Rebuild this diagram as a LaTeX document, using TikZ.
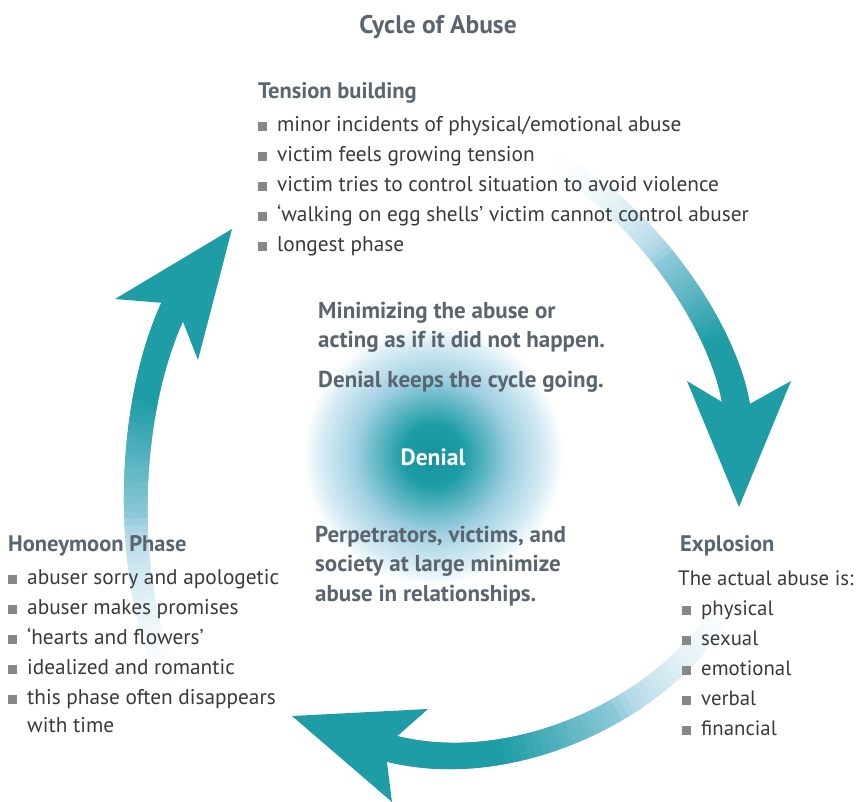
\documentclass[tikz,border=0pt]{standalone}
\usepackage{fontspec}
\setmainfont{PT Sans}

\definecolor{cycleteal}{RGB}{30,157,166}
\definecolor{cyclelight}{RGB}{160,208,226}
\definecolor{glowcore}{RGB}{22,146,156}
\definecolor{glowpale}{RGB}{215,236,244}
\definecolor{headgray}{RGB}{90,101,112}
\definecolor{textgray}{RGB}{58,58,60}
\definecolor{bulletgray}{RGB}{135,135,138}

\newcommand{\sqbullet}{\textcolor{bulletgray}{\rule[0.5pt]{9pt}{9pt}}\hspace{10pt}}

\pgfdeclareradialshading{denialglow}{\pgfpoint{0bp}{0bp}}{%
  color(0bp)=(glowcore); color(6bp)=(cycleteal); color(15bp)=(cyclelight);
  color(21.5bp)=(glowpale); color(25bp)=(white); color(50bp)=(white)}

\tikzset{
  heading/.style={anchor=base west, inner sep=0pt, text=headgray,
    font=\fontsize{22.5}{30}\selectfont\bfseries},
  itemlist/.style={anchor=base west, inner sep=0pt, align=left, text=textgray,
    font=\fontsize{21.3}{30}\selectfont},
  denialtext/.style={anchor=base west, inner sep=0pt, align=left, text=headgray,
    font=\fontsize{23}{29.5}\selectfont\bfseries}
}

\begin{document}
\begin{tikzpicture}[x=1pt, y=-1pt]
    \useasboundingbox (0,0) rectangle (857,802);

    % Denial glow in the middle
    \shade[shading=denialglow] (433,455) circle (130);

    % Arrow: tension building -> explosion
    \path (540,155) .. controls (640,200) and (733,335) .. (738,420)
        \foreach \i in {0,...,60} {coordinate[pos=\i/60] (ta\i)};
    \foreach \i in {0,...,58} {
        \pgfmathtruncatemacro\j{\i+2}
        \pgfmathtruncatemacro\pa{min(100,100*(\i/27)^2)}
        \pgfmathtruncatemacro\pb{max(0,min(100,(\i-24)*5.4))}
        \pgfmathsetmacro\lw{20+0.13*\i}
        \draw[line width=\lw pt, cycleteal!\pb!cyclelight!\pa!white] (ta\i) -- (ta\j);
    }
    \fill[cycleteal] (739,507) -- (791,381) -- (737,411) -- (687,381) -- cycle;

    % Arrow: explosion -> honeymoon phase
    \path (735,580) .. controls (700,690) and (520,790) .. (378,745)
        \foreach \i in {0,...,60} {coordinate[pos=\i/60] (ea\i)};
    \foreach \i in {0,...,58} {
        \pgfmathtruncatemacro\j{\i+2}
        \pgfmathtruncatemacro\pa{min(100,100*(\i/27)^2)}
        \pgfmathtruncatemacro\pb{max(0,min(100,(\i-24)*5.4))}
        \pgfmathsetmacro\lw{20+0.13*\i}
        \draw[line width=\lw pt, cycleteal!\pb!cyclelight!\pa!white] (ea\i) -- (ea\j);
    }
    \fill[cycleteal] (292,716) -- (428,709) -- (385,747) -- (392,802) -- cycle;

    % Arrow: honeymoon phase -> tension building
    \path (178,700) .. controls (118,590) and (125,400) .. (179,298)
        \foreach \i in {0,...,60} {coordinate[pos=\i/60] (ha\i)};
    \foreach \i in {0,...,58} {
        \pgfmathtruncatemacro\j{\i+2}
        \pgfmathtruncatemacro\pa{min(100,100*(\i/27)^2)}
        \pgfmathtruncatemacro\pb{max(0,min(100,(\i-24)*5.4))}
        \pgfmathsetmacro\lw{20+0.13*\i}
        \draw[line width=\lw pt, cycleteal!\pb!cyclelight!\pa!white] (ha\i) -- (ha\j);
    }
    \fill[cycleteal] (232,229) -- (115,299) -- (176,304) -- (198,360) -- cycle;

    % Title
    \node[anchor=base, inner sep=0pt, text=headgray, font=\fontsize{25.5}{30}\selectfont\bfseries]
        (title) at (438,34) {Cycle of Abuse};

    % Tension building (lists sit on the baseline of their last line)
    \node[heading] (tensionhead) at (258,99) {Tension building};
    \node[itemlist] (tensionlist) at (258,252) {%
        \sqbullet minor incidents of physical/emotional abuse\\
        \sqbullet victim feels growing tension\\
        \sqbullet victim tries to control situation to avoid violence\\
        \sqbullet `walking on egg shells' victim cannot control abuser\\
        \sqbullet longest phase};

    % Denial in the centre
    \node[denialtext] (minimize) at (318,387) {%
        Minimizing the abuse or\\
        acting as if it did not happen.\\[10pt]
        Denial keeps the cycle going.};
    \node[inner sep=0pt, text=white, font=\fontsize{23.5}{28}\selectfont\bfseries]
        (denial) at (433,457) {Denial};
    \node[denialtext] (perpetrators) at (315,601) {%
        Perpetrators, victims, and\\
        society at large minimize\\
        abuse in relationships.};

    % Honeymoon phase
    \node[heading] (honeyhead) at (8,551) {Honeymoon Phase};
    \node[itemlist] (honeylist) at (8,732) {%
        \sqbullet abuser sorry and apologetic\\
        \sqbullet abuser makes promises\\
        \sqbullet `hearts and flowers'\\
        \sqbullet idealized and romantic\\
        \sqbullet this phase often disappears\\[-2pt]
        \hspace{19pt}with time};

    % Explosion
    \node[heading] (explosionhead) at (680,551) {Explosion};
    \node[itemlist, font=\fontsize{20.8}{30}\selectfont] (explosionlist) at (678,735) {%
        The actual abuse is:\\
        \hspace{4pt}\sqbullet physical\\
        \hspace{4pt}\sqbullet sexual\\
        \hspace{4pt}\sqbullet emotional\\
        \hspace{4pt}\sqbullet verbal\\
        \hspace{4pt}\sqbullet financial};

\end{tikzpicture}
\end{document}
